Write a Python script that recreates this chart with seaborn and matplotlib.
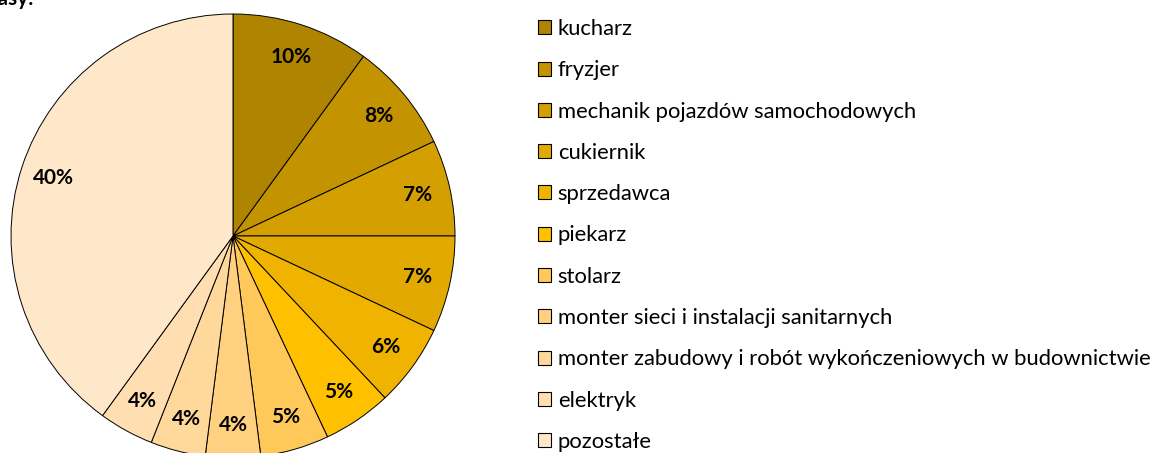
import matplotlib
matplotlib.use("Agg")
import matplotlib.pyplot as plt
import seaborn as sns

# Occupations and their share (%)
zawody = [
    "kucharz",
    "fryzjer",
    "mechanik pojazdów samochodowych",
    "cukiernik",
    "sprzedawca",
    "piekarz",
    "stolarz",
    "monter sieci i instalacji sanitarnych",
    "monter zabudowy i robót wykończeniowych w budownictwie",
    "elektryk",
    "pozostałe",
]
udzialy = [10, 8, 7, 7, 6, 5, 5, 4, 4, 4, 40]

kolory = [
    "#AF8400", "#C49300", "#D49F00", "#E2AA00", "#F0B400", "#FFC000",
    "#FFC95A", "#FFD080", "#FFD89C", "#FFDFB2", "#FFE7C9",
]

sns.set_theme(style="white")
plt.rcParams["font.family"] = ["Lato", "DejaVu Sans"]
plt.rcParams["text.color"] = "black"

fig = plt.figure(figsize=(11.6, 4.53), dpi=100)

# square axes for the pie, sized in pixels
W, H = 1160, 453
cx, cy, r = 233, 236, 222
ax = fig.add_axes([(cx - r) / W, (H - cy - r) / H, 2 * r / W, 2 * r / H])

wedges, _, autotexts = ax.pie(
    udzialy,
    colors=kolory,
    startangle=90,
    counterclock=False,
    autopct=lambda p: f"{p:.0f}%",
    pctdistance=0.85,
    radius=1.0,
    wedgeprops=dict(edgecolor="black", linewidth=0.7),
    textprops=dict(fontsize=15, fontweight="bold", color="black"),
)
ax.set_xlim(-1, 1)
ax.set_ylim(-1, 1)
ax.set_axis_off()

leg = fig.legend(
    wedges,
    zawody,
    loc="upper left",
    bbox_to_anchor=(538 / W, 1 - 19 / H),
    frameon=False,
    fontsize=15.8,
    handlelength=0.6,
    handleheight=0.6,
    handletextpad=0.3,
    labelspacing=0.97,
    borderaxespad=0,
    borderpad=0,
)
for h in leg.legend_handles:
    h.set_edgecolor("black")
    h.set_linewidth(0.8)

# heading line, partly above the visible area
fig.text(34 / W, 1 - 5 / H, "klasy:", ha="right", va="baseline",
         fontsize=15, fontweight="bold")

fig.savefig("out.png", dpi=100)
